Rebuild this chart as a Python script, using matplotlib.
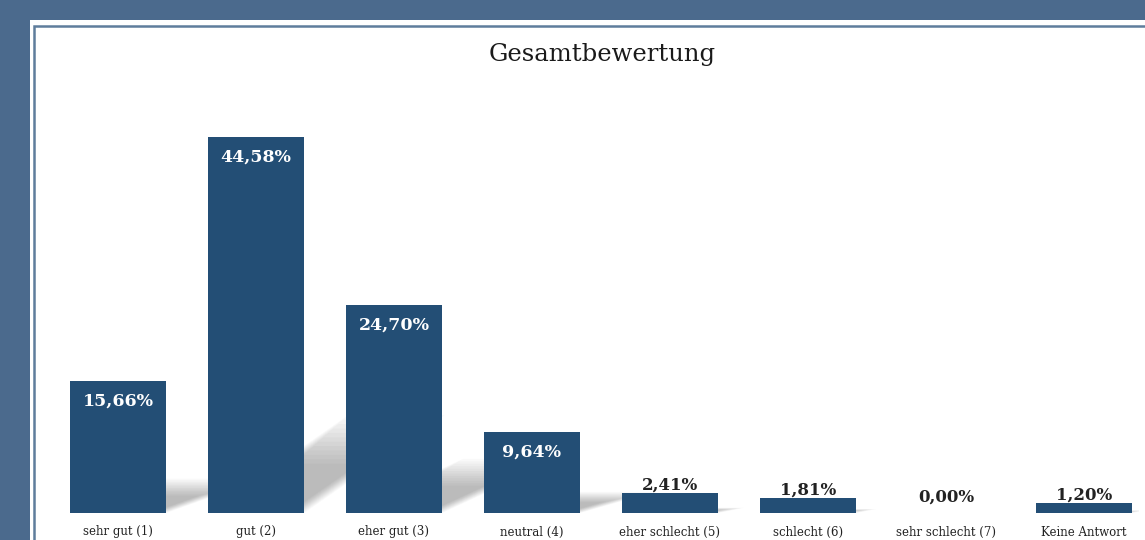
import matplotlib.pyplot as plt
import matplotlib.patches as mpatches
import numpy as np

# Data
categories = ["sehr gut (1)", "gut (2)", "eher gut (3)", "neutral (4)",
              "eher schlecht (5)", "schlecht (6)", "sehr schlecht (7)", "Keine Antwort"]
values = [15.66, 44.58, 24.70, 9.64, 2.41, 1.81, 0.00, 1.20]
labels = ["15,66%", "44,58%", "24,70%", "9,64%", "2,41%", "1,81%", "0,00%", "1,20%"]

W, H = 1145, 540
bar_color = "#234e75"
serif = ["DejaVu Serif"]
px_x = 138.0   # pixels per category
px_y = 8.43    # pixels per percent

fig = plt.figure(figsize=(W / 100, H / 100), dpi=100, facecolor="#4b6a8d")

# white panel + thin border line (behind the axes)
fig.patches.append(mpatches.Rectangle((30 / W, 0), 1, 1 - 20 / H, transform=fig.transFigure,
                                      facecolor="white", edgecolor="none", zorder=-2))
fig.patches.append(mpatches.Rectangle((34 / W, -0.1), 1, 1 - 26 / H + 0.1, transform=fig.transFigure,
                                      facecolor="none", edgecolor="#5f7d9c", linewidth=1.8, zorder=-1))

# axes placement (pixels)
left, right, bottom, top = 49, 1139, 27, 100
ax = fig.add_axes([left / W, bottom / H, (right - left) / W, (H - top - bottom) / H])
ax.set_facecolor("none")
ax.set_xlim(-0.5, 7.4)
ax.set_ylim(0, (H - top - bottom) / px_y)

x = np.arange(len(values))
bw = 0.7

# soft perspective shadows behind bars
n = 12
for xi, h in zip(x, values):
    if h <= 0:
        continue
    hp = h * px_y
    sh_px = 0.26 * hp
    slope = 0.17 + 0.0014 * hp
    dx = sh_px / slope / px_x
    sh = sh_px / px_y
    x0 = xi - bw / 2
    for k in range(n):
        du = k * 0.015
        v1 = 1 - k * 0.045
        pts = [(x0 + u * bw + v * dx, v * sh)
               for u, v in [(du, 0), (1 - du, 0), (1 - du, v1), (du, v1)]]
        ax.add_patch(mpatches.Polygon(pts, closed=True, facecolor="black",
                                      edgecolor="none", alpha=0.024, zorder=1))

ax.bar(x, values, width=bw, color=bar_color, zorder=3)

for xi, h, lab in zip(x, values, labels):
    if h > 5:
        ax.text(xi, h - 2.4, lab, ha="center", va="center", color="white",
                fontsize=12.5, fontweight="bold", family=serif, zorder=4)
    else:
        ax.text(xi, max(h, 1) + 0.9, lab, ha="center", va="center", color="#222222",
                fontsize=12, fontweight="bold", family=serif, zorder=4)

ax.set_xticks(x)
ax.set_xticklabels(categories, fontsize=8.5, family=serif, color="#222222")
ax.tick_params(axis="x", length=0, pad=9)
ax.set_yticks([])
for s in ax.spines.values():
    s.set_visible(False)

fig.text(602 / W, 1 - 55 / H, "Gesamtbewertung", ha="center", va="center",
         fontsize=17.5, family=serif, color="#1a1a1a")

fig.savefig("out.png", dpi=100, facecolor=fig.get_facecolor())
